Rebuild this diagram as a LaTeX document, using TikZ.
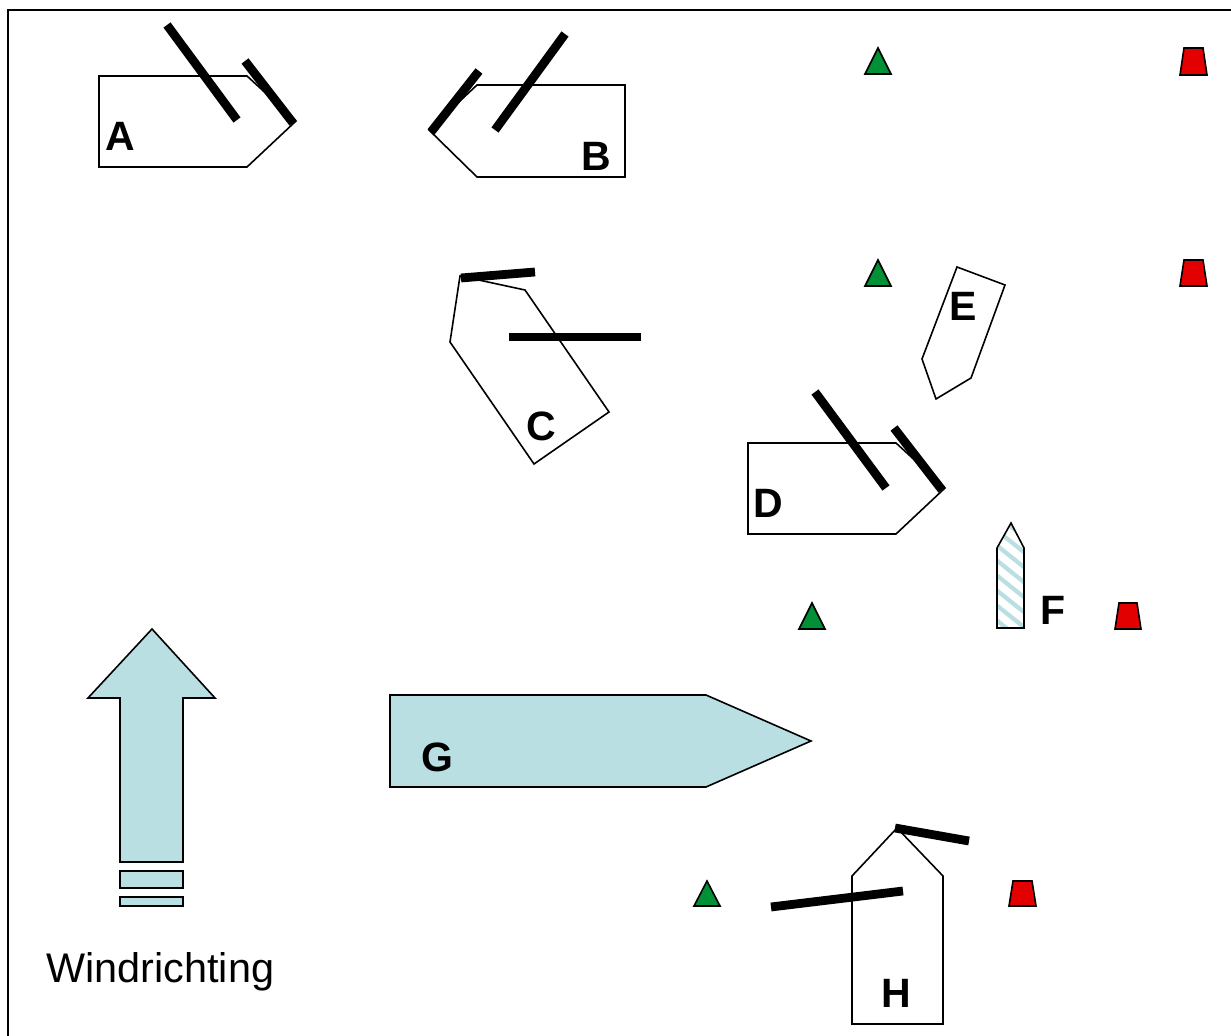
\documentclass[tikz,border=0pt]{standalone}
\usepackage{fontspec}
\setmainfont{Liberation Sans}
\definecolor{windblue}{HTML}{B9DFE3}
\definecolor{buoygreen}{HTML}{009035}
\definecolor{buoyred}{HTML}{E30000}
\tikzset{
  hull/.style={draw=black,line width=0.8pt,line join=miter},
  sail/.style={draw=black,line width=4.4pt},
  bluefill/.style={hull,fill=windblue},
  greenbuoy/.style={draw=black,line width=0.8pt,fill=buoygreen},
  redbuoy/.style={draw=black,line width=0.8pt,fill=buoyred},
  boatlabel/.style={font=\bfseries\fontsize{20.5}{24}\selectfont,inner sep=0pt,text=black},
}
\begin{document}
\begin{tikzpicture}[x=0.5pt,y=-0.5pt]
\useasboundingbox (0,0) rectangle (1231,1036);
\clip (0,0) rectangle (1231,1036);
\fill[white] (0,0) rectangle (1231,1036);
\draw[black,line width=0.95pt] (8,10) rectangle (1245,1050);
% boat A
\draw[hull] (99,76)--(247,76)--(296,121)--(247,167)--(99,167)--cycle;
\draw[sail] (167,25)--(237,120);
\draw[sail] (245,61)--(293,123);
\node[boatlabel] (a) at (120,136) {A};
% boat B
\draw[hull] (625,85)--(477,85)--(429,130)--(477,177)--(625,177)--cycle;
\draw[sail] (565,34)--(495,130);
\draw[sail] (479,71)--(431,132);
\node[boatlabel] (b) at (596,156) {B};
% boat C
\draw[hull] (460,276)--(525,290)--(609,412)--(534,464)--(450,342)--cycle;
\draw[sail] (461,278)--(535,272);
\draw[sail] (509,337)--(641,337);
\node[boatlabel] (c) at (541,426) {C};
% boat D
\draw[hull] (748,443)--(896,443)--(945,488)--(896,534)--(748,534)--cycle;
\draw[sail] (815,392)--(886,488);
\draw[sail] (894,428)--(942,490);
\node[boatlabel] (d) at (768,503) {D};
% boat E
\draw[hull] (957,267)--(1005,285)--(971,378)--(936,399)--(922,359)--cycle;
\node[boatlabel] (e) at (963,306) {E};
% boat F
\begin{scope}
\clip (997,548)--(1011,523)--(1024,548)--(1024,628)--(997,628)--cycle;
\foreach \yy in {510,525,...,630}
  \draw[windblue,line width=2.1pt] (990,\yy)--(1030,\yy+32);
\end{scope}
\draw[hull] (997,548)--(1011,523)--(1024,548)--(1024,628)--(997,628)--cycle;
\node[boatlabel] (f) at (1053,610) {F};
% boat G
\draw[bluefill] (390,695)--(706,695)--(811,741)--(706,787)--(390,787)--cycle;
\node[boatlabel] (g) at (437,757) {G};
% boat H
\draw[hull] (852,876)--(897,828)--(943,876)--(943,1024)--(852,1024)--cycle;
\draw[sail] (895,828)--(969,841);
\draw[sail] (771,907)--(903,891);
\node[boatlabel] (h) at (896,993) {H};
% wind arrow
\draw[bluefill] (152,629)--(215,698)--(183,698)--(183,862)--(120,862)--(120,698)--(88,698)--cycle;
\draw[bluefill] (120,871) rectangle (183,888);
\draw[bluefill] (120,897) rectangle (183,906);
\node[anchor=base west,inner sep=0pt,font=\fontsize{20.7}{24}\selectfont] (wind) at (46,982) {Windrichting};
% green buoys
\draw[greenbuoy] (878,48)--(891,74)--(865,74)--cycle;
\draw[greenbuoy] (878,260)--(891,286)--(865,286)--cycle;
\draw[greenbuoy] (812,603)--(825,629)--(799,629)--cycle;
\draw[greenbuoy] (707,881)--(720,906)--(694,906)--cycle;
% red buoys
\draw[redbuoy] (1184,48)--(1203,48)--(1207,75)--(1180,75)--cycle;
\draw[redbuoy] (1184,260)--(1203,260)--(1207,286)--(1180,286)--cycle;
\draw[redbuoy] (1119,603)--(1137,603)--(1141,629)--(1115,629)--cycle;
\draw[redbuoy] (1013,881)--(1032,881)--(1036,906)--(1009,906)--cycle;
\end{tikzpicture}
\end{document}
